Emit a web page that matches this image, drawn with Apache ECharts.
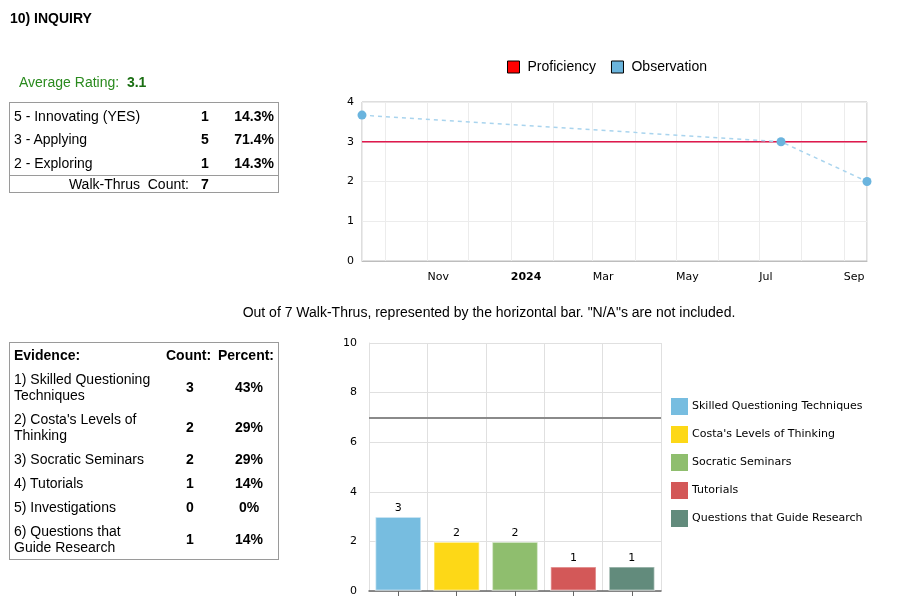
<!DOCTYPE html>
<html>
<head>
<meta charset="utf-8">
<script src="https://cdn.jsdelivr.net/npm/echarts@6/dist/echarts.min.js"></script>
<style>
  html, body { margin:0; padding:0; background:#fff; }
  body { width:900px; height:613px; position:relative; overflow:hidden; font-family:"Liberation Sans", Arial, sans-serif; color:#000; }
  #chart { position:absolute; left:0; top:0; width:900px; height:613px; z-index:1; }
  .t { position:absolute; z-index:2; font-size:14px; line-height:16px; white-space:nowrap; }
  .box { position:absolute; z-index:2; border:1px solid #9a9a9a; box-sizing:border-box; }
  .sep { position:absolute; z-index:2; height:1px; background:#9a9a9a; }
  b { font-weight:bold; }
</style>
</head>
<body>
<div id="chart"></div>
<div id="overlay"></div>
<script>
// ---------- data ----------
var title = '10) INQUIRY';
var averageRating = '3.1';
var ratingLabels = ['5 - Innovating (YES)', '3 - Applying', '2 - Exploring'];
var ratingCounts = [1, 5, 1];
var ratingPercents = ['14.3%', '71.4%', '14.3%'];
var walkThrusCount = 7;

var evidenceLabels = [['1) Skilled Questioning', 'Techniques'], ['2) Costa\'s Levels of', 'Thinking'], ['3) Socratic Seminars'], ['4) Tutorials'], ['5) Investigations'], ['6) Questions that', 'Guide Research']];
var evidenceCounts = [3, 2, 2, 1, 0, 1];
var evidencePercents = ['43%', '29%', '29%', '14%', '0%', '14%'];

var obsDates = ['2023-09-14', '2024-07-17', '2024-09-18'];
var obsValues = [3.67, 3, 2];
var proficiencyValue = 3;
var monthLabels = ['Jan','Feb','Mar','Apr','May','Jun','Jul','Aug','Sep','Oct','Nov','Dec'];

var barCategories = ['Skilled Questioning Techniques', 'Costa\'s Levels of Thinking', 'Socratic Seminars', 'Tutorials', 'Questions that Guide Research'];
var barValues = [3, 2, 2, 1, 1];
var barColors = ['#77bde0', '#fdd817', '#8fbe6e', '#d35858', '#628b7c'];
var walkThruLine = 7;
var footnote = 'Out of 7 Walk-Thrus, represented by the horizontal bar. "N/A"s are not included.';

// ---------- HTML text / tables ----------
var ov = document.getElementById('overlay');
function txt(html, left, cy, opts) {
  opts = opts || {};
  var d = document.createElement('div');
  d.className = 't';
  d.innerHTML = html;
  d.style.top = (cy - 8) + 'px';
  if (opts.align === 'center') { d.style.left = (left - 100) + 'px'; d.style.width = '200px'; d.style.textAlign = 'center'; }
  else if (opts.align === 'right') { d.style.left = (left - 200) + 'px'; d.style.width = '200px'; d.style.textAlign = 'right'; }
  else d.style.left = left + 'px';
  if (opts.style) d.setAttribute('style', d.getAttribute('style') + ';' + opts.style);
  ov.appendChild(d);
  return d;
}
function box(l, t, w, h) { var d = document.createElement('div'); d.className = 'box'; d.style.left = l + 'px'; d.style.top = t + 'px'; d.style.width = w + 'px'; d.style.height = h + 'px'; ov.appendChild(d); }
function sep(l, t, w) { var d = document.createElement('div'); d.className = 'sep'; d.style.left = l + 'px'; d.style.top = t + 'px'; d.style.width = w + 'px'; ov.appendChild(d); }

txt('<b>' + title + '</b>', 10, 18);
txt('Average Rating:&nbsp; <b style="color:#1a6e12">' + averageRating + '</b>', 19, 82, { style: 'color:#2a8a1e' });

box(9, 102, 270, 91);
var r1 = [116, 139, 163];
for (var i = 0; i < ratingLabels.length; i++) {
  txt(ratingLabels[i], 14, r1[i]);
  txt('<b>' + ratingCounts[i] + '</b>', 205, r1[i], { align: 'center' });
  txt('<b>' + ratingPercents[i] + '</b>', 274, r1[i], { align: 'right' });
}
sep(9, 175, 270);
txt('Walk-Thrus&nbsp; Count:', 189, 184, { align: 'right' });
txt('<b>' + walkThrusCount + '</b>', 205, 184, { align: 'center' });

box(9, 342, 270, 218);
txt('<b>Evidence:</b>', 14, 355);
txt('<b>Count:</b>', 166, 355);
txt('<b>Percent:</b>', 218, 355);
var r2 = [387, 427, 459, 483, 507, 539];
for (var j = 0; j < evidenceLabels.length; j++) {
  var lab = evidenceLabels[j];
  var d = txt(lab.join('<br>'), 14, r2[j]);
  if (lab.length > 1) d.style.top = (r2[j] - 16) + 'px';
  txt('<b>' + evidenceCounts[j] + '</b>', 190, r2[j], { align: 'center' });
  txt('<b>' + evidencePercents[j] + '</b>', 249, r2[j], { align: 'center' });
}
var fn = txt(footnote, 489, 312);
fn.style.left = '189px'; fn.style.width = '600px'; fn.style.textAlign = 'center';

// ---------- chart ----------
var chart = echarts.init(document.getElementById('chart'), null, { renderer: 'canvas' });
var axisFont = 'DejaVu Sans';

var barSeries = barCategories.map(function (name, idx) {
  var data = barCategories.map(function (c, k) { return k === idx ? barValues[k] : '-'; });
  var s = {
    name: name, type: 'bar', stack: 'ev', xAxisIndex: 1, yAxisIndex: 1,
    barWidth: '80%', data: data,
    itemStyle: { color: barColors[idx], borderColor: 'rgba(255,255,255,0.45)', borderWidth: 1.5 },
    label: { show: true, position: 'top', color: '#000', fontFamily: axisFont, fontSize: 11, distance: 3 }
  };
  if (idx === 0) {
    s.markLine = { silent: true, symbol: 'none', label: { show: false },
      lineStyle: { color: '#8a8a8a', width: 2, type: 'solid' },
      data: [{ yAxis: walkThruLine }] };
  }
  return s;
});

var option = {
  animation: false,
  backgroundColor: 'transparent',
  legend: [
    {
      left: 507, top: 60, padding: 0, itemWidth: 12, itemHeight: 12, itemGap: 15,
      textStyle: { fontFamily: 'Liberation Sans', fontSize: 14, color: '#000', padding: [0, 0, 0, 3] },
      data: [
        { name: 'Proficiency', icon: 'rect', itemStyle: { color: '#ff0000', borderColor: '#000', borderWidth: 1 } },
        { name: 'Observation', icon: 'rect', itemStyle: { color: '#6ab4dc', borderColor: '#000', borderWidth: 1 } }
      ]
    },
    {
      orient: 'vertical', left: 671, top: 398, padding: 0, itemWidth: 17, itemHeight: 17, itemGap: 11,
      textStyle: { fontFamily: axisFont, fontSize: 11, color: '#000', padding: [0, 0, 0, -1] },
      data: barCategories.map(function (c, k) { return { name: c, icon: 'rect', itemStyle: { color: barColors[k], borderWidth: 0 } }; })
    }
  ],
  grid: [
    { left: 362, top: 102, width: 505, height: 159, show: true, borderColor: '#bdbdbd', borderWidth: 1, backgroundColor: 'transparent' },
    { left: 369, top: 343, width: 292, height: 248 }
  ],
  xAxis: [
    {
      type: 'time', gridIndex: 0, min: obsDates[0], max: obsDates[obsDates.length - 1], splitNumber: 12,
      axisLine: { show: true, lineStyle: { color: '#bdbdbd' } },
      axisTick: { show: false },
      splitLine: { show: true, lineStyle: { color: '#ececec' } },
      axisLabel: {
        margin: 11, align: 'left', color: '#000', fontFamily: axisFont, fontSize: 11,
        showMinLabel: false, showMaxLabel: false, hideOverlap: false,
        formatter: function (v) {
          var d = new Date(v);
          if (d.getDate() !== 1) return '';
          var m = d.getMonth();
          if (m % 2 === 1) return '';
          if (m === 0) return '{y|' + d.getFullYear() + '}';
          return monthLabels[m];
        },
        rich: { y: { fontWeight: 'bold', fontFamily: axisFont, fontSize: 11, color: '#000' } }
      }
    },
    {
      type: 'category', gridIndex: 1, data: barCategories,
      axisLine: { show: true, lineStyle: { color: '#666', width: 1.5 } },
      axisTick: { show: true, interval: 0, alignWithLabel: true, length: 5, lineStyle: { color: '#666' } },
      axisLabel: { show: false, interval: 0 },
      splitLine: { show: true, interval: 0, lineStyle: { color: '#e0e0e0' } }
    }
  ],
  yAxis: [
    {
      type: 'value', gridIndex: 0, min: 0, max: 4, interval: 1,
      axisLine: { show: false }, axisTick: { show: false },
      splitLine: { show: true, lineStyle: { color: '#ececec' } },
      axisLabel: { margin: 8, color: '#000', fontFamily: axisFont, fontSize: 11 }
    },
    {
      type: 'value', gridIndex: 1, min: 0, max: 10, interval: 2,
      axisLine: { show: true, lineStyle: { color: '#e0e0e0' } }, axisTick: { show: false },
      splitLine: { show: true, lineStyle: { color: '#e0e0e0' } },
      axisLabel: { margin: 12, color: '#000', fontFamily: axisFont, fontSize: 11 }
    }
  ],
  series: [
    {
      name: 'Proficiency', type: 'line', xAxisIndex: 0, yAxisIndex: 0,
      data: [[obsDates[0], proficiencyValue], [obsDates[obsDates.length - 1], proficiencyValue]],
      symbol: 'none', lineStyle: { color: '#e0194d', width: 1.5 }, itemStyle: { color: '#ff0000' }, z: 2
    },
    {
      name: 'Observation', type: 'line', xAxisIndex: 0, yAxisIndex: 0,
      data: obsDates.map(function (d, k) { return [d, obsValues[k]]; }),
      symbol: 'circle', symbolSize: 9, showAllSymbol: true,
      lineStyle: { color: '#a9d4ee', width: 1.5, type: [4, 4] },
      itemStyle: { color: '#6ab4de' }, z: 3
    }
  ].concat(barSeries)
};
chart.setOption(option);
</script>
</body>
</html>
